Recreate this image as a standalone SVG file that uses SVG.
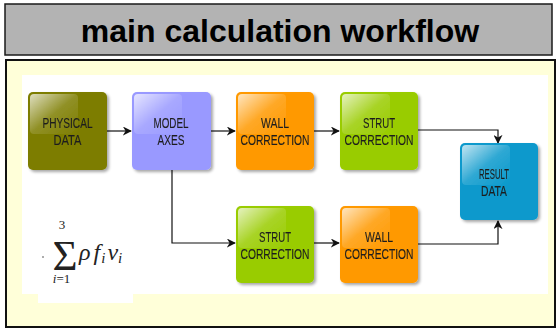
<svg xmlns="http://www.w3.org/2000/svg" width="558" height="331" viewBox="0 0 558 331">
<defs>
<linearGradient id="gloss" x1="0" y1="0" x2="1" y2="1">
<stop offset="0" stop-color="#fff" stop-opacity="0.75"/>
<stop offset="0.5" stop-color="#fff" stop-opacity="0.15"/>
<stop offset="1" stop-color="#fff" stop-opacity="0"/>
</linearGradient>
<filter id="sh" x="-10%" y="-10%" width="130%" height="130%">
<feGaussianBlur in="SourceAlpha" stdDeviation="1.5"/>
<feOffset dx="1.5" dy="2" result="b"/>
<feComponentTransfer><feFuncA type="linear" slope="0.35"/></feComponentTransfer>
<feMerge><feMergeNode/><feMergeNode in="SourceGraphic"/></feMerge>
</filter>
<marker id="arr" viewBox="0 0 10 10" refX="9" refY="5" markerWidth="9" markerHeight="9" markerUnits="userSpaceOnUse" orient="auto">
<path d="M0,0 L10,5 L0,10 L3,5 Z" fill="#111"/>
</marker>
</defs>
<style>
.box{filter:url(#sh)}
.gl{fill:url(#gloss)}
.lbl{font-family:"Liberation Sans",Arial,sans-serif;font-size:14px;fill:#1f1f1f;stroke:#1f1f1f;stroke-width:0.15;text-anchor:middle}
.con{fill:none;stroke:#111;stroke-width:1.2;marker-end:url(#arr)}
.math{font-family:"Liberation Serif","DejaVu Serif",serif;fill:#222}
</style>
<rect x="5" y="4" width="547" height="51" fill="#b3b3b3" stroke="#1a1a1a" stroke-width="1.5"/>
<text x="280" y="42" font-family="Liberation Sans, Arial, sans-serif" font-size="32" font-weight="bold" text-anchor="middle" fill="#000">main calculation workflow</text>
<rect x="6" y="60" width="549" height="267" fill="#ffffd9" stroke="#111" stroke-width="2"/>
<rect x="22" y="75" width="526" height="219" fill="#fff"/>
<rect x="38" y="290" width="95" height="13" fill="#fff"/>

<g id="connectors">
<path class="con" d="M107,131 H131"/>
<path class="con" d="M211,131 H235"/>
<path class="con" d="M314,131 H339"/>
<path class="con" d="M418,130 H498 V143"/>
<path class="con" d="M172,170 V243 H235"/>
<path class="con" d="M314,243 H339"/>
<path class="con" d="M418,244 H498 V221"/>
</g>

<g id="physical-data" class="box">
<rect x="28" y="92" width="79" height="78" rx="5" fill="#7d7d00"/>
<rect x="30" y="94" width="48" height="40" rx="4" class="gl"/>
<text class="lbl" x="67.5" y="128" textLength="50" lengthAdjust="spacingAndGlyphs">PHYSICAL</text>
<text class="lbl" x="67.5" y="145" textLength="28" lengthAdjust="spacingAndGlyphs">DATA</text>
</g>
<g id="model-axes" class="box">
<rect x="132" y="92" width="79" height="78" rx="5" fill="#9999ff"/>
<rect x="134" y="94" width="48" height="40" rx="4" class="gl"/>
<text class="lbl" x="171" y="128" textLength="35" lengthAdjust="spacingAndGlyphs">MODEL</text>
<text class="lbl" x="171" y="145" textLength="27" lengthAdjust="spacingAndGlyphs">AXES</text>
</g>
<g id="wall-correction-1" class="box">
<rect x="236" y="92" width="78" height="78" rx="5" fill="#ff9900"/>
<rect x="238" y="94" width="48" height="40" rx="4" class="gl"/>
<text class="lbl" x="275" y="128" textLength="28" lengthAdjust="spacingAndGlyphs">WALL</text>
<text class="lbl" x="275" y="145" textLength="69" lengthAdjust="spacingAndGlyphs">CORRECTION</text>
</g>
<g id="strut-correction-1" class="box">
<rect x="340" y="92" width="78" height="78" rx="5" fill="#99cc00"/>
<rect x="342" y="94" width="48" height="40" rx="4" class="gl"/>
<text class="lbl" x="379" y="128" textLength="32" lengthAdjust="spacingAndGlyphs">STRUT</text>
<text class="lbl" x="379" y="145" textLength="69" lengthAdjust="spacingAndGlyphs">CORRECTION</text>
</g>
<g id="result-data" class="box">
<rect x="460" y="143" width="78" height="77" rx="5" fill="#0a99cc"/>
<rect x="462" y="145" width="48" height="40" rx="4" class="gl"/>
<text class="lbl" x="494" y="179" textLength="30" lengthAdjust="spacingAndGlyphs">RESULT</text>
<text class="lbl" x="494" y="196" textLength="26" lengthAdjust="spacingAndGlyphs">DATA</text>
</g>
<g id="strut-correction-2" class="box">
<rect x="236" y="206" width="78" height="77" rx="5" fill="#99cc00"/>
<rect x="238" y="208" width="48" height="40" rx="4" class="gl"/>
<text class="lbl" x="275" y="242" textLength="32" lengthAdjust="spacingAndGlyphs">STRUT</text>
<text class="lbl" x="275" y="259" textLength="69" lengthAdjust="spacingAndGlyphs">CORRECTION</text>
</g>
<g id="wall-correction-2" class="box">
<rect x="340" y="206" width="78" height="77" rx="5" fill="#ff9900"/>
<rect x="342" y="208" width="48" height="40" rx="4" class="gl"/>
<text class="lbl" x="379" y="242" textLength="28" lengthAdjust="spacingAndGlyphs">WALL</text>
<text class="lbl" x="379" y="259" textLength="69" lengthAdjust="spacingAndGlyphs">CORRECTION</text>
</g>

<g id="formula" class="math">
<circle cx="43" cy="257" r="0.8" fill="#444"/>
<text x="62" y="229" font-size="13" text-anchor="middle">3</text>
<text x="65" y="270" font-size="43" text-anchor="middle">Σ</text>
<text x="61.5" y="283" font-size="13" text-anchor="middle" font-style="italic">i<tspan font-style="normal">=1</tspan></text>
<text x="79" y="260" font-size="24" font-style="italic">ρ<tspan dx="3">f</tspan><tspan font-size="15" dy="3" dx="1">i</tspan><tspan dx="2" dy="-3">v</tspan><tspan font-size="15" dy="3">i</tspan></text>
</g>
</svg>
